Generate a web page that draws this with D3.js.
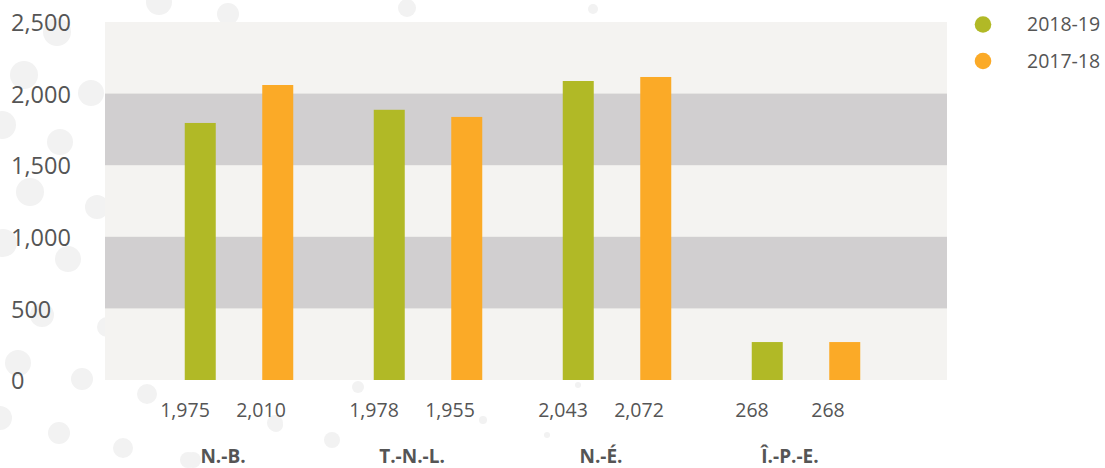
<!DOCTYPE html>
<html>
<head>
<meta charset="utf-8">
<script src="https://cdn.jsdelivr.net/npm/d3@7"></script>
<style>
  body { margin: 0; background: #fff; }
  svg { display: block; font-family: "Open Sans", Lato, sans-serif; }
</style>
</head>
<body>
<svg width="1105" height="468"></svg>
<script>
// chart data
var provinces = ["N.-B.", "T.-N.-L.", "N.-É.", "Î.-P.-E."];
var seriesNames = ["2018-19", "2017-18"];
var seriesColors = ["#b1b926", "#fbaa27"];
// bar heights as drawn in the picture
var bars2018 = [1795, 1887, 2088, 265];
var bars2017 = [2060, 1837, 2116, 265];
// numbers printed under the bars
var labels2018 = ["1,975", "1,978", "2,043", "268"];
var labels2017 = ["2,010", "1,955", "2,072", "268"];
var yTicks = [0, 500, 1000, 1500, 2000, 2500];

// faint background dots (decoration only)
var decorDots = [
  [159, 2, 13], [228, 14, 11], [57, 32, 14], [24, 75, 14], [91, 93, 13],
  [2, 125, 14], [60, 142, 13], [30, 192, 14], [97, 207, 12], [3, 243, 14],
  [68, 259, 13], [42, 315, 12], [107, 327, 10], [18, 363, 13], [82, 379, 11],
  [147, 394, 10], [0, 418, 12], [59, 433, 11], [123, 448, 10], [188, 460, 8],
  [276, 425, 7], [407, 8, 9], [593, 9, 5], [358, 387, 6], [332, 440, 8],
  [275, 423, 8], [193, 460, 8], [483, 420, 4], [578, 385, 3], [547, 435, 3]
];

var svg = d3.select("svg");

// layout
var plot = {left: 105, right: 947, top: 22, bottom: 380};

var y = d3.scaleLinear().domain([0, 2500]).range([plot.bottom, plot.top]);
var x0 = d3.scaleBand().domain(provinces).range([144.5, 900.5]);
var x1 = d3.scaleBand().domain(seriesNames).range([-54.25, 54.25])
  .paddingInner(0.6).paddingOuter(0);

var barData = provinces.map(function(p, i) {
  return {province: p, values: [bars2018[i], bars2017[i]], labels: [labels2018[i], labels2017[i]]};
});

// decoration
svg.append("g").selectAll("circle")
  .data(decorDots)
  .enter().append("circle")
  .attr("cx", function(d) { return d[0]; })
  .attr("cy", function(d) { return d[1]; })
  .attr("r", function(d) { return d[2]; })
  .attr("fill", "#f2f2f2");

// plot background with grey stripes
svg.append("rect")
  .attr("x", plot.left)
  .attr("y", plot.top)
  .attr("width", plot.right - plot.left)
  .attr("height", plot.bottom - plot.top)
  .attr("fill", "#f4f3f1");

svg.append("g").selectAll("rect")
  .data(yTicks.slice(0, -1).filter(function(d, i) { return i % 2 == 1; }))
  .enter().append("rect")
  .attr("x", plot.left)
  .attr("y", function(d) { return y(d + 500); })
  .attr("width", plot.right - plot.left)
  .attr("height", function(d) { return y(d) - y(d + 500); })
  .attr("fill", "#d1cfd0");

// y axis labels
svg.append("g").selectAll("text")
  .data(yTicks)
  .enter().append("text")
  .attr("x", 11)
  .attr("y", function(d) { return y(d) + 1; })
  .attr("dy", "0.35em")
  .attr("font-size", 23.5)
  .attr("fill", "#555")
  .text(function(d) { return d3.format(",")(d); });

// bars
var groups = svg.append("g").selectAll("g")
  .data(barData)
  .enter().append("g")
  .attr("transform", function(d) { return "translate(" + (x0(d.province) + x0.bandwidth() / 2) + ",0)"; });

groups.selectAll("rect")
  .data(function(d) { return d.values.map(function(v, i) { return {key: seriesNames[i], value: v, i: i}; }); })
  .enter().append("rect")
  .attr("x", function(d) { return x1(d.key); })
  .attr("y", function(d) { return y(d.value); })
  .attr("width", x1.bandwidth())
  .attr("height", function(d) { return y(0) - y(d.value); })
  .attr("fill", function(d) { return seriesColors[d.i]; });

// table under the chart (sits a little left of the bars)
var table = svg.append("g").attr("transform", "translate(-16,0)");

var cells = table.selectAll("g")
  .data(barData)
  .enter().append("g")
  .attr("transform", function(d) { return "translate(" + (x0(d.province) + x0.bandwidth() / 2) + ",0)"; });

cells.selectAll("text.val")
  .data(function(d) { return d.labels; })
  .enter().append("text")
  .attr("class", "val")
  .attr("x", function(d, i) { return i == 0 ? -38 : 38; })
  .attr("y", 410)
  .attr("dy", "0.35em")
  .attr("text-anchor", "middle")
  .attr("font-size", 19.5)
  .attr("fill", "#555")
  .text(function(d) { return d; });

cells.append("text")
  .attr("x", 0)
  .attr("y", 456)
  .attr("dy", "0.35em")
  .attr("text-anchor", "middle")
  .attr("font-size", 19)
  .attr("font-weight", "bold")
  .attr("fill", "#555")
  .text(function(d) { return d.province; });

// legend
var legend = svg.append("g").selectAll("g")
  .data(seriesNames)
  .enter().append("g")
  .attr("transform", function(d, i) { return "translate(983," + (24.5 + i * 36.5) + ")"; });

legend.append("circle")
  .attr("r", 8.3)
  .attr("fill", function(d, i) { return seriesColors[i]; });

legend.append("text")
  .attr("x", 44)
  .attr("dy", "0.35em")
  .attr("font-size", 19.5)
  .attr("fill", "#555")
  .text(function(d) { return d; });
</script>
</body>
</html>
